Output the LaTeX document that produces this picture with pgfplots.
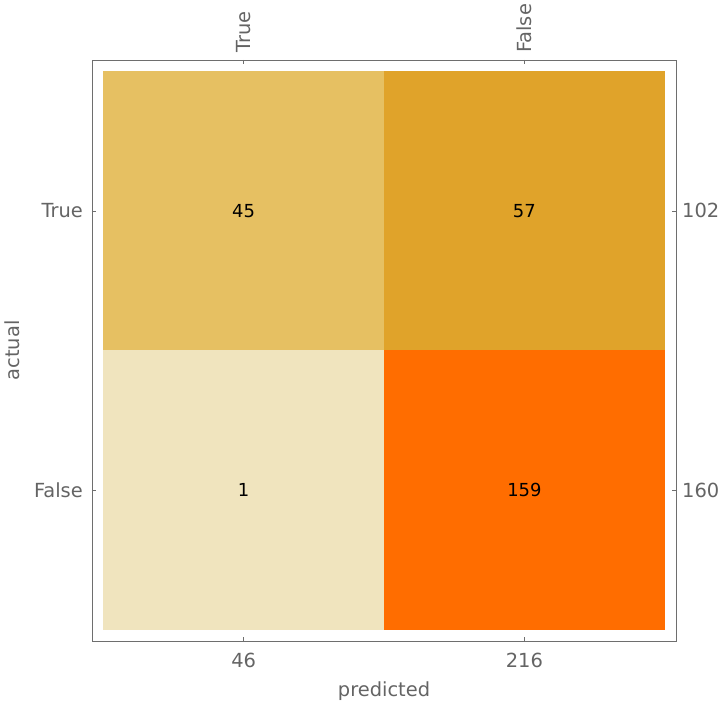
\documentclass[border=0pt]{standalone}
\usepackage{pgfplots}
\pgfplotsset{compat=1.18}
\usepackage{fontspec}
\setmainfont{DejaVu Sans}
\definecolor{cTT}{HTML}{E6C062}
\definecolor{cTF}{HTML}{E0A32A}
\definecolor{cFT}{HTML}{F0E4BE}
\definecolor{cFF}{HTML}{FF6D00}
\definecolor{txt}{HTML}{646464}
\definecolor{frm}{HTML}{6E6E6E}
\begin{document}
\begin{tikzpicture}
\useasboundingbox (-92bp,-65bp) rectangle (628bp,641bp);
\pgfplotsset{
  cm/.style={
    at={(0,0)}, anchor=south west,
    scale only axis, width=584bp, height=581bp,
    xmin=-0.04, xmax=2.04, ymin=-0.04, ymax=2.04,
    axis line style={frm, line width=0.7bp},
    tick style={frm, line width=0.6bp},
    tick align=inside, major tick length=4bp,
    xtick={0.5,1.5}, ytick={0.5,1.5},
    ticklabel style={font=\fontsize{19.5}{22}\selectfont, text=txt},
    /pgf/number format/assume math mode=true,
  }
}
\begin{axis}[cm,
  tick pos=left,
  xticklabels={46,216}, yticklabels={False,True},
  xticklabel style={anchor=center, yshift=-19bp},
  yticklabel style={anchor=east, inner sep=0pt, xshift=-9bp},
  xlabel={predicted}, ylabel={actual},
  every axis x label/.style={at={(axis description cs:0.5,-0.0865)}, anchor=center, font=\fontsize{19.5}{22}\selectfont, text=txt},
  every axis y label/.style={at={(axis description cs:-0.137,0.5)}, anchor=center, rotate=90, font=\fontsize{19.5}{22}\selectfont, text=txt},
]
\addplot[fill=cTT, draw=none] coordinates {(0,1) (1,1) (1,2) (0,2)} -- cycle;
\addplot[fill=cTF, draw=none] coordinates {(1,1) (2,1) (2,2) (1,2)} -- cycle;
\addplot[fill=cFT, draw=none] coordinates {(0,0) (1,0) (1,1) (0,1)} -- cycle;
\addplot[fill=cFF, draw=none] coordinates {(1,0) (2,0) (2,1) (1,1)} -- cycle;
\addplot[only marks, mark=none, nodes near coords, point meta=explicit symbolic,
  every node near coord/.append style={anchor=center, text=black, font=\fontsize{18}{21}\selectfont}]
  table[meta=lab] {
x y lab
0.5 1.5 45
1.5 1.5 57
0.5 0.5 1
1.5 0.5 159
};
\end{axis}
\begin{axis}[cm,
  tick pos=right, xticklabel pos=right, yticklabel pos=right,
  xticklabels={True,False}, yticklabels={160,102},
  xticklabel style={rotate=90, anchor=west, inner sep=0pt, xshift=7bp},
  yticklabel style={anchor=west, inner sep=0pt, xshift=6bp},
]
\end{axis}
\end{tikzpicture}
\end{document}
